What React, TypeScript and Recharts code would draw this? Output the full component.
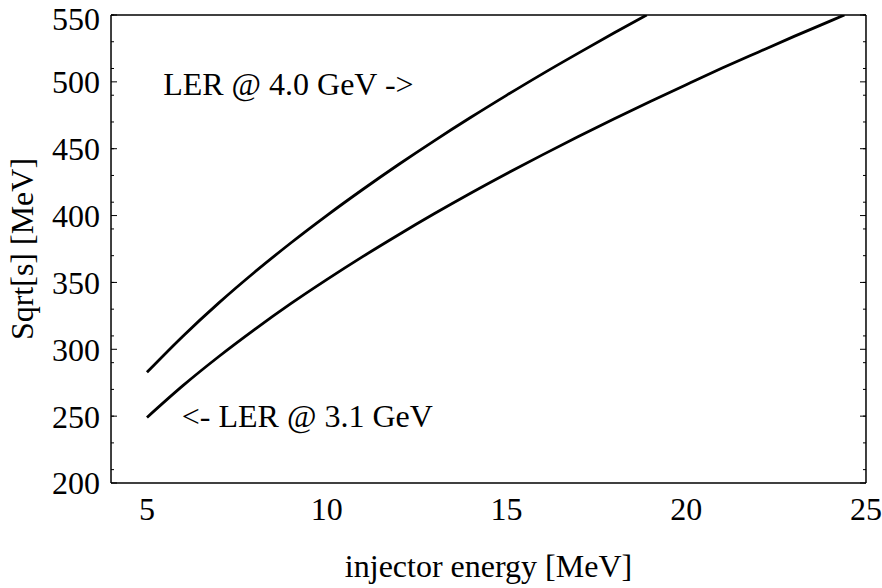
import React from "react";
import {
  LineChart,
  Line,
  XAxis,
  YAxis,
  ReferenceDot,
  Label,
} from "recharts";

const FONT = '"Liberation Serif", "Times New Roman", serif';

// injector energy [MeV] vs Sqrt[s] [MeV], LER at 4.0 GeV
const ler40Energy = [5, 6, 7, 8, 9, 10, 11, 12, 13, 14, 15, 16, 17, 18, 18.9];
const ler40Sqrt = [282.8, 309.8, 334.7, 357.8, 379.5, 400, 419.5, 438.2, 456.1, 473.3, 489.9, 506, 521.5, 536.7, 550];

// LER at 3.1 GeV
const ler31Energy = [5, 6, 7, 8, 9, 10, 11, 12, 13, 14, 15, 16, 17, 18, 19, 20, 21, 22, 23, 24, 24.4];
const ler31Sqrt = [
  249, 272.8, 294.6, 314.9, 334.1, 352.1, 369.3, 385.7, 401.5, 416.7, 431.3, 445.4, 459.1, 472.4,
  485.3, 497.9, 510.3, 522.2, 534, 545.4, 550,
];

const xDomain = [4, 25];
const yDomain = [200, 550];
const xMajor = [5, 10, 15, 20, 25];
const xMinor = [4, 5, 6, 7, 8, 9, 10, 11, 12, 13, 14, 15, 16, 17, 18, 19, 20, 21, 22, 23, 24, 25];
const yMajor = [200, 250, 300, 350, 400, 450, 500, 550];
const yMinor = [
  200, 210, 220, 230, 240, 250, 260, 270, 280, 290, 300, 310, 320, 330, 340, 350, 360, 370,
  380, 390, 400, 410, 420, 430, 440, 450, 460, 470, 480, 490, 500, 510, 520, 530, 540, 550,
];

const ler40 = ler40Energy.map((e, i) => ({ e, s: ler40Sqrt[i] }));
const ler31 = ler31Energy.map((e, i) => ({ e, s: ler31Sqrt[i] }));

const frame = { stroke: "#000", strokeWidth: 1.5 };
const tickStroke = { stroke: "#000", strokeWidth: 1 };
const tickText = { fill: "#000", fontSize: 32, fontFamily: FONT };

// axes with zero size are skipped, so the mirror axes get a sliver
const THIN = 0.01;
const noLabel = () => <g />;

// inward frame ticks on all four sides (mirror axes take no space)
function frameTicks() {
  const sides = ["bottom", "top"] as const;
  const vsides = ["left", "right"] as const;
  return [
    ...sides.flatMap((o) => [
      <XAxis
        key={`${o}-minor`}
        xAxisId={`${o}-minor`}
        orientation={o}
        mirror
        type="number"
        domain={xDomain}
        allowDataOverflow
        ticks={xMinor}
        tick={noLabel}
        tickSize={3}
        height={THIN}
        axisLine={frame}
        tickLine={tickStroke}
      />,
      <XAxis
        key={`${o}-major`}
        xAxisId={`${o}-major`}
        orientation={o}
        mirror
        type="number"
        domain={xDomain}
        allowDataOverflow
        ticks={xMajor}
        tick={noLabel}
        tickSize={6}
        height={THIN}
        axisLine={false}
        tickLine={tickStroke}
      />,
    ]),
    ...vsides.flatMap((o) => [
      <YAxis
        key={`${o}-minor`}
        yAxisId={`${o}-minor`}
        orientation={o}
        mirror
        type="number"
        domain={yDomain}
        allowDataOverflow
        ticks={yMinor}
        tick={noLabel}
        tickSize={3}
        width={THIN}
        axisLine={frame}
        tickLine={tickStroke}
      />,
      <YAxis
        key={`${o}-major`}
        yAxisId={`${o}-major`}
        orientation={o}
        mirror
        type="number"
        domain={yDomain}
        allowDataOverflow
        ticks={yMajor}
        tick={noLabel}
        tickSize={6}
        width={THIN}
        axisLine={false}
        tickLine={tickStroke}
      />,
    ]),
  ];
}

export default function App() {
  return (
    <div style={{ position: "absolute", left: 0, top: 0, background: "#fff" }}>
      <LineChart width={882} height={588} margin={{ top: 15, right: 16, bottom: 0, left: 0 }}>
        <XAxis
          xAxisId="x"
          type="number"
          dataKey="e"
          domain={xDomain}
          allowDataOverflow
          ticks={xMajor}
          height={105}
          tickSize={0}
          tickMargin={14}
          tickLine={false}
          axisLine={false}
          tick={tickText}
        >
          <Label
            content={({ viewBox }: any) => (
              <text
                x={viewBox.x + viewBox.width / 2}
                y={viewBox.y + 94}
                textAnchor="middle"
                fontSize={32}
                fontFamily={FONT}
                fill="#000"
              >
                injector energy [MeV]
              </text>
            )}
          />
        </XAxis>
        <YAxis
          yAxisId="y"
          type="number"
          domain={yDomain}
          allowDataOverflow
          ticks={yMajor}
          width={111}
          tickSize={0}
          tickMargin={11}
          tickLine={false}
          axisLine={false}
          tick={tickText}
        >
          <Label
            content={({ viewBox }: any) => {
              const cx = viewBox.x + 22;
              const cy = viewBox.y + viewBox.height / 2;
              return (
                <text
                  x={cx}
                  y={cy}
                  transform={`rotate(-90, ${cx}, ${cy})`}
                  textAnchor="middle"
                  dominantBaseline="central"
                  fontSize={32}
                  fontFamily={FONT}
                  fill="#000"
                >
                  Sqrt[s] [MeV]
                </text>
              );
            }}
          />
        </YAxis>
        {frameTicks()}
        <Line
          xAxisId="x"
          yAxisId="y"
          data={ler40}
          dataKey="s"
          type="monotone"
          stroke="#000"
          strokeWidth={2.8}
          dot={false}
          isAnimationActive={false}
        />
        <Line
          xAxisId="x"
          yAxisId="y"
          data={ler31}
          dataKey="s"
          type="monotone"
          stroke="#000"
          strokeWidth={2.8}
          dot={false}
          isAnimationActive={false}
        />
        <ReferenceDot
          xAxisId="x"
          yAxisId="y"
          x={5.45}
          y={498.5}
          r={0}
          fill="none"
          stroke="none"
          label={{ value: "LER @ 4.0 GeV ->", position: "right", offset: 0, ...tickText }}
        />
        <ReferenceDot
          xAxisId="x"
          yAxisId="y"
          x={5.97}
          y={250.4}
          r={0}
          fill="none"
          stroke="none"
          label={{ value: "<- LER @ 3.1 GeV", position: "right", offset: 0, ...tickText }}
        />
      </LineChart>
    </div>
  );
}
